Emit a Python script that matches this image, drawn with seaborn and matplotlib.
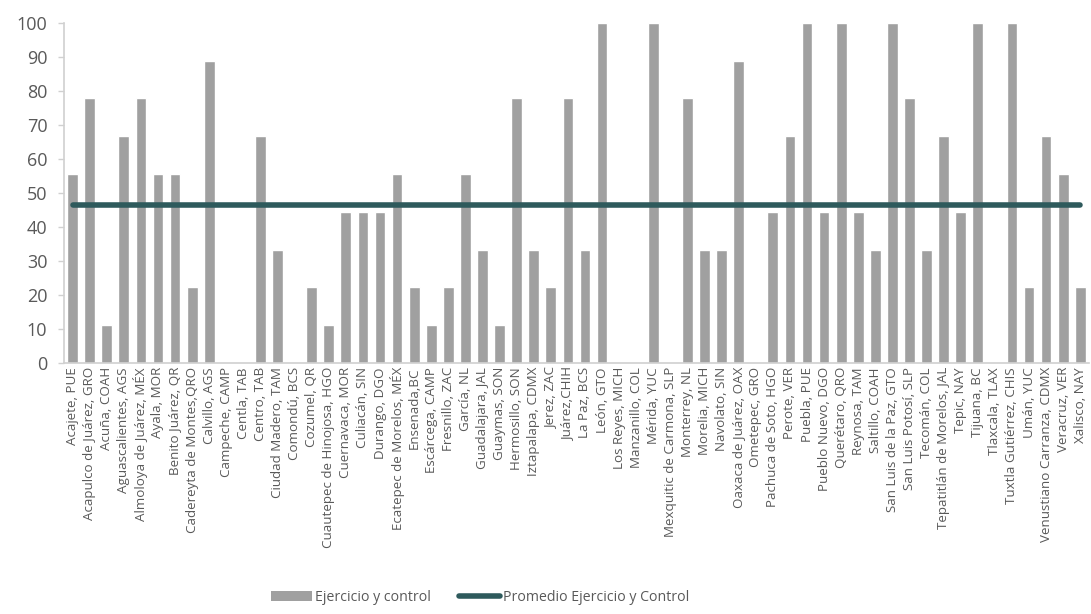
import pandas as pd
import seaborn as sns
import numpy as np
import matplotlib.pyplot as plt
from matplotlib.patches import Patch
from matplotlib.lines import Line2D

municipios = [
    "Acajete, PUE", "Acapulco de Juárez, GRO", "Acuña, COAH", "Aguascalientes, AGS",
    "Almoloya de Juárez, MÉX", "Ayala, MOR", "Benito Juárez, QR", "Cadereyta de Montes,QRO",
    "Calvillo, AGS", "Campeche, CAMP", "Centla, TAB", "Centro, TAB", "Ciudad Madero, TAM",
    "Comondú, BCS", "Cozumel, QR", "Cuautepec de Hinojosa, HGO", "Cuernavaca, MOR",
    "Culiacán, SIN", "Durango, DGO", "Ecatepec de Morelos, MÉX", "Ensenada,BC",
    "Escárcega, CAMP", "Fresnillo, ZAC", "García, NL", "Guadalajara, JAL", "Guaymas, SON",
    "Hermosillo, SON", "Iztapalapa, CDMX", "Jerez, ZAC", "Juárez,CHIH", "La Paz, BCS",
    "León, GTO", "Los Reyes, MICH", "Manzanillo, COL", "Mérida, YUC",
    "Mexquitic de Carmona, SLP", "Monterrey, NL", "Morelia, MICH", "Navolato, SIN",
    "Oaxaca de Juárez, OAX", "Ometepec, GRO", "Pachuca de Soto, HGO", "Perote, VER",
    "Puebla, PUE", "Pueblo Nuevo, DGO", "Querétaro, QRO", "Reynosa, TAM", "Saltillo, COAH",
    "San Luis de la Paz, GTO", "San Luis Potosí, SLP", "Tecomán, COL",
    "Tepatitlán de Morelos, JAL", "Tepic, NAY", "Tijuana, BC", "Tlaxcala, TLAX",
    "Tuxtla Gutiérrez, CHIS", "Umán, YUC", "Venustiano Carranza, CDMX", "Veracruz, VER",
    "Xalisco, NAY",
]
ejercicio_control = [
    55.6, 77.8, 11.1, 66.7, 77.8, 55.6, 55.6, 22.2, 88.9, 0, 0, 66.7, 33.3, 0, 22.2,
    11.1, 44.4, 44.4, 44.4, 55.6, 22.2, 11.1, 22.2, 55.6, 33.3, 11.1, 77.8, 33.3, 22.2,
    77.8, 33.3, 100, 0, 0, 100, 0, 77.8, 33.3, 33.3, 88.9, 0, 44.4, 66.7, 100, 44.4,
    100, 44.4, 33.3, 100, 77.8, 33.3, 66.7, 44.4, 100, 0, 100, 22.2, 66.7, 55.6, 22.2,
]
promedio = 46.5

df = pd.DataFrame({"municipio": municipios, "valor": ejercicio_control})
df["promedio"] = promedio

bar_color = "#A0A0A0"
line_color = "#2E5A5C"
text_color = "#595959"

sns.set_theme(style="white")
plt.rcParams["font.family"] = ["Open Sans", "DejaVu Sans"]

fig = plt.figure(figsize=(10.91, 6.14), dpi=100)
ax = fig.add_axes([0.0587, 0.409, 0.9393, 0.5535])

sns.barplot(data=df, x="municipio", y="valor", color=bar_color, width=0.63,
            saturation=1, ax=ax)
sns.lineplot(data=df, x="municipio", y="promedio", color=line_color, linewidth=4,
             sort=False, ax=ax, solid_capstyle="round")

ax.set_ylim(0, 100)
ax.set_xlim(-0.5, len(municipios) - 0.5)
ax.set_yticks(np.arange(0, 101, 10))
ax.set_xlabel("")
ax.set_ylabel("")
ax.tick_params(axis="y", labelsize=13, colors=text_color, length=4, color="#D0D0D0",
               width=1, left=True, pad=8)
ax.tick_params(axis="x", labelsize=9.6, colors=text_color, length=0, pad=3)
plt.setp(ax.get_xticklabels(), rotation=90)

for s in ["top", "right"]:
    ax.spines[s].set_visible(False)
for s in ["left", "bottom"]:
    ax.spines[s].set_color("#D0D0D0")
    ax.spines[s].set_linewidth(1.2)

handles = [
    Patch(facecolor=bar_color, edgecolor="none", label="Ejercicio y control"),
    Line2D([0], [0], color=line_color, linewidth=4, solid_capstyle="round",
           label="Promedio Ejercicio y Control"),
]
fig.legend(handles=handles, loc="center", bbox_to_anchor=(0.44, 0.027), ncol=2,
           frameon=False, fontsize=10.2, handlelength=2.9, handletextpad=0.2,
           columnspacing=2.0, labelcolor=text_color)

plt.savefig("out.png", dpi=100)
